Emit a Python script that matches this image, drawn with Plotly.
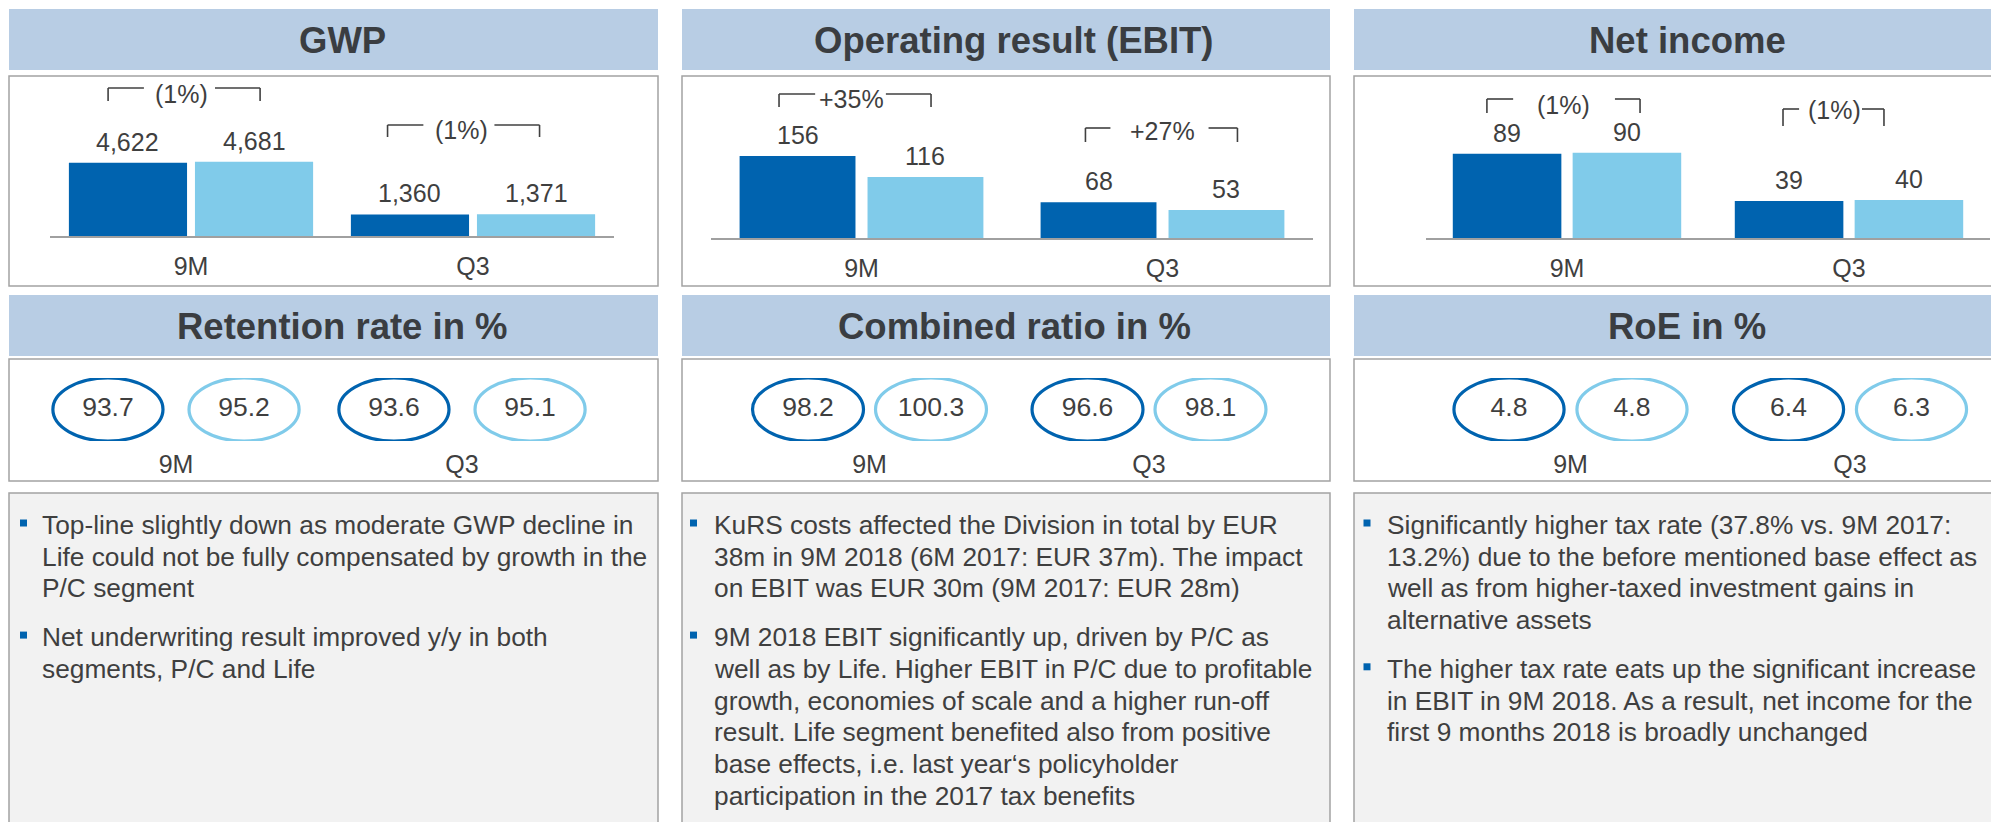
import plotly.graph_objects as go

# ---------------- data ----------------
categories = ["9M", "Q3"]

gwp_2018 = [4622, 1360]
gwp_2017 = [4681, 1371]
gwp_change = ["(1%)", "(1%)"]

ebit_2018 = [156, 68]
ebit_2017 = [116, 53]
ebit_change = ["+35%", "+27%"]

ni_2018 = [89, 39]
ni_2017 = [90, 40]
ni_change = ["(1%)", "(1%)"]

retention_2018 = [93.7, 93.6]
retention_2017 = [95.2, 95.1]

cr_2018 = [98.2, 96.6]
cr_2017 = [100.3, 98.1]

roe_2018 = [4.8, 6.4]
roe_2017 = [4.8, 6.3]

top_titles = ["GWP", "Operating result (EBIT)", "Net income"]
mid_titles = ["Retention rate in %", "Combined ratio in %", "RoE in %"]

comments_gwp = [
    ["Top-line slightly down as moderate GWP decline in",
     "Life could not be fully compensated by growth in the",
     "P/C segment"],
    ["Net underwriting result improved y/y in both",
     "segments, P/C and Life"],
]
comments_ebit = [
    ["KuRS costs affected the Division in total by EUR",
     "38m in 9M 2018 (6M 2017: EUR 37m). The impact",
     "on EBIT was EUR 30m (9M 2017: EUR 28m)"],
    ["9M 2018 EBIT significantly up, driven by P/C as",
     "well as by Life. Higher EBIT in P/C due to profitable",
     "growth, economies of scale and a higher run-off",
     "result. Life segment benefited also from positive",
     "base effects, i.e. last year\u2018s policyholder",
     "participation in the 2017 tax benefits"],
]
comments_ni = [
    ["Significantly higher tax rate (37.8% vs. 9M 2017:",
     "13.2%) due to the before mentioned base effect as",
     "well as from higher-taxed investment gains in",
     "alternative assets"],
    ["The higher tax rate eats up the significant increase",
     "in EBIT in 9M 2018. As a result, net income for the",
     "first 9 months 2018 is broadly unchanged"],
]

# ---------------- style ----------------
W, H = 1991, 822
FONT = "Liberation Sans, Arial, sans-serif"
DARK = "#0063AF"
LIGHT = "#80CBEA"
TXT = "#3F3F3F"
TITLE = "#3A3D41"
BAND = "#B8CDE4"
BORDER = "#A3A3A3"
BOXFILL = "#F2F2F2"
AXLINE = "#A0A0A0"


def px(x):
    return x / W


def py(y):
    return 1 - y / H


fig = go.Figure()
shapes = []
annots = []
layout_axes = {}

cols = [(9, 658), (682, 1330), (1354, 2010)]
title_cx = [342, 1014, 1687]

# bands and boxes
for c, (x0, x1) in enumerate(cols):
    for (y0, y1), ttl in [((9, 70), top_titles[c]), ((295, 356), mid_titles[c])]:
        shapes.append(dict(type="rect", xref="paper", yref="paper", x0=px(x0), x1=px(x1),
                           y0=py(y1), y1=py(y0), fillcolor=BAND, line=dict(width=0), layer="below"))
        annots.append(dict(xref="paper", yref="paper", x=px(title_cx[c]), y=py((y0 + y1) / 2 + 1),
                           text="<b>%s</b>" % ttl, showarrow=False, xanchor="center", yanchor="middle",
                           font=dict(family=FONT, size=36.5, color=TITLE)))
    for (y0, y1), fill in [((76, 286), "white"), ((359, 481), "white"), ((493, 840), BOXFILL)]:
        shapes.append(dict(type="rect", xref="paper", yref="paper", x0=px(x0), x1=px(x1),
                           y0=py(y1), y1=py(y0), fillcolor=fill,
                           line=dict(width=1.5, color=BORDER), layer="below"))

# ---------------- bar panels ----------------
bar_panels = [
    dict(n="", dom=(50, 614), base=236, ymax=10100, v18=gwp_2018, v17=gwp_2017, chg=gwp_change,
         w=0.419, gap=0.028,
         br=[(-0.294, 0.245, -0.167, 0.085, -0.032, 88, 13, 94),
             (-0.303, 0.236, -0.176, 0.076, -0.040, 125, 12, 130)]),
    dict(n="2", dom=(711, 1313), base=238, ymax=308, v18=ebit_2018, v17=ebit_2017, chg=ebit_change,
         w=0.385, gap=0.040,
         br=[(-0.274, 0.231, -0.154, 0.081, -0.032, 94, 13, 99),
             (-0.256, 0.249, -0.173, 0.153, 0.000, 128, 14, 131)]),
    dict(n="3", dom=(1426, 1990), base=238, ymax=171, v18=ni_2018, v17=ni_2017, chg=ni_change,
         w=0.385, gap=0.040,
         br=[(-0.284, 0.259, -0.191, 0.170, -0.011, 99, 14, 105),
             (-0.234, 0.124, -0.177, 0.046, -0.053, 109, 17, 110)]),
]

for p in bar_panels:
    xa, ya = "x" + p["n"], "y" + p["n"]
    xs = list(range(len(categories)))
    w, g = p["w"], p["gap"]
    fig.add_trace(go.Bar(x=xs, y=p["v18"], width=w, offset=-(g / 2 + w), marker=dict(color=DARK, line=dict(width=0)),
                         xaxis=xa, yaxis=ya, hoverinfo="skip", showlegend=False))
    fig.add_trace(go.Bar(x=xs, y=p["v17"], width=w, offset=g / 2, marker=dict(color=LIGHT, line=dict(width=0)),
                         xaxis=xa, yaxis=ya, hoverinfo="skip", showlegend=False))
    for i in xs:
        for val, cx in [(p["v18"][i], i - g / 2 - w / 2), (p["v17"][i], i + g / 2 + w / 2)]:
            annots.append(dict(xref=xa, yref=ya, x=cx, y=val, yshift=21, text="{:,}".format(val),
                               showarrow=False, xanchor="center", yanchor="middle",
                               font=dict(family=FONT, size=25, color=TXT)))
        a, b, sl, sr, tx, top, drop, ty = p["br"][i]
        ln = dict(color="#404040", width=1.6)
        for (x0, y0, x1, y1) in [(i + a, top, i + a, top + drop), (i + a, top, i + sl, top),
                                 (i + sr, top, i + b, top), (i + b, top, i + b, top + drop)]:
            shapes.append(dict(type="line", xref=xa, yref="paper", x0=x0, x1=x1, y0=py(y0), y1=py(y1), line=ln))
        annots.append(dict(xref=xa, yref="paper", x=i + tx, y=py(ty), text=p["chg"][i], showarrow=False,
                           xanchor="center", yanchor="middle", font=dict(family=FONT, size=25, color=TXT)))
    layout_axes["xaxis" + p["n"]] = dict(domain=[px(p["dom"][0]), px(p["dom"][1])], range=[-0.5, 1.5],
                                          anchor=ya, showline=True, linecolor=AXLINE, linewidth=2,
                                          ticks="outside", ticklen=7, tickcolor="rgba(0,0,0,0)",
                                          tickvals=xs, ticktext=categories, showgrid=False, zeroline=False,
                                          tickfont=dict(family=FONT, size=25, color=TXT), fixedrange=True)
    layout_axes["yaxis" + p["n"]] = dict(domain=[py(p["base"]), py(76)], range=[0, p["ymax"]], anchor=xa,
                                          visible=False, fixedrange=True)

# ---------------- ellipse panels ----------------
mid_panels = [
    dict(n="4", dom=(33, 605), off=0.238, ew=0.385, v18=retention_2018, v17=retention_2017),
    dict(n="5", dom=(729.75, 1288.75), off=0.22, ew=0.397, v18=cr_2018, v17=cr_2017),
    dict(n="6", dom=(1430.75, 1989.75), off=0.22, ew=0.394, v18=roe_2018, v17=roe_2017),
]
for p in mid_panels:
    xa, ya = "x" + p["n"], "y" + p["n"]
    xs = list(range(len(categories)))
    o, ew = p["off"], p["ew"]
    for vals, sgn, col in [(p["v18"], -1, DARK), (p["v17"], 1, LIGHT)]:
        xpos = [i + sgn * o for i in xs]
        fig.add_trace(go.Scatter(x=xpos, y=[0.5] * len(xs), mode="text", text=["%.1f" % v for v in vals],
                                 textposition="middle center", textfont=dict(family=FONT, size=26.5, color=TXT),
                                 xaxis=xa, yaxis=ya, hoverinfo="skip", showlegend=False))
        for xc in xpos:
            shapes.append(dict(type="circle", xref=xa, yref=ya, x0=xc - ew / 2, x1=xc + ew / 2, y0=0, y1=1,
                               line=dict(color=col, width=3.2)))
    layout_axes["xaxis" + p["n"]] = dict(domain=[px(p["dom"][0]), px(p["dom"][1])], range=[-0.5, 1.5],
                                          anchor=ya, showline=False, ticks="outside", ticklen=1,
                                          tickcolor="rgba(0,0,0,0)", tickvals=xs, ticktext=categories,
                                          showgrid=False, zeroline=False,
                                          tickfont=dict(family=FONT, size=25, color=TXT), fixedrange=True)
    layout_axes["yaxis" + p["n"]] = dict(domain=[py(441), py(378)], range=[0, 1], anchor=xa,
                                          visible=False, fixedrange=True)

# ---------------- commentary ----------------
text_x = [40, 712, 1385]
bullet_x = [23.5, 693.5, 1367]
LINE = 31.7
PARA = 17
for c, paras in enumerate([comments_gwp, comments_ebit, comments_ni]):
    y = 525
    for para in paras:
        shapes.append(dict(type="rect", xref="paper", yref="paper",
                           x0=px(bullet_x[c] - 3.5), x1=px(bullet_x[c] + 3.5),
                           y0=py(y - 2 + 3.5), y1=py(y - 2 - 3.5), fillcolor=DARK, line=dict(width=0)))
        for line in para:
            annots.append(dict(xref="paper", yref="paper", x=px(text_x[c]), y=py(y), text=line,
                               showarrow=False, xanchor="left", yanchor="middle", align="left",
                               font=dict(family=FONT, size=26.3, color=TXT)))
            y += LINE
        y += PARA

fig.update_layout(width=W, height=H, margin=dict(l=0, r=0, t=0, b=0), paper_bgcolor="white",
                  plot_bgcolor="rgba(0,0,0,0)", barmode="overlay", showlegend=False,
                  shapes=shapes, annotations=annots, **layout_axes)

fig.write_html("out.html", config={"displayModeBar": False, "staticPlot": True},
               post_script="document.body.style.margin='0';document.body.style.padding='0';"
                           "document.body.style.overflow='hidden';")
